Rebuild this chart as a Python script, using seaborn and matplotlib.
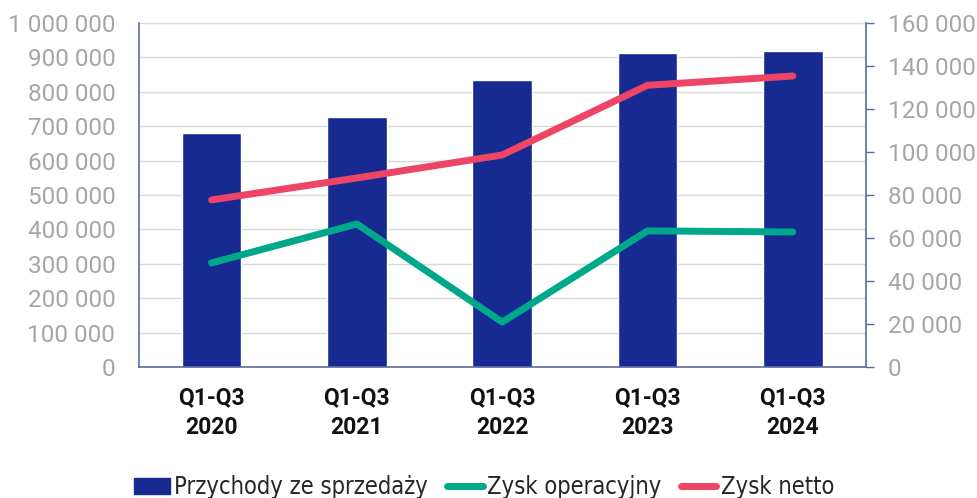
import matplotlib
matplotlib.use("Agg")
import matplotlib.pyplot as plt
import seaborn as sns
import pandas as pd
from matplotlib.ticker import FuncFormatter, MultipleLocator
from matplotlib.patches import Patch
from matplotlib.lines import Line2D
from matplotlib import font_manager as fm

categories = ["Q1-Q3\n2020", "Q1-Q3\n2021", "Q1-Q3\n2022", "Q1-Q3\n2023", "Q1-Q3\n2024"]
przychody = [679000, 728000, 835000, 913000, 919000]
zysk_operacyjny = [48400, 66500, 20900, 63300, 62800]
zysk_netto = [77700, 87900, 98600, 131000, 135300]

df = pd.DataFrame({"kat": categories, "przychody": przychody,
                   "zop": zysk_operacyjny, "zn": zysk_netto})

sns.set_theme(style="white")
plt.rcParams["font.family"] = ["Roboto", "DejaVu Sans"]

BAR = "#162A92"
GREEN = "#00A88A"
RED = "#EE4466"
SPINE = "#5A6A9E"
TICK = "#A6A6A6"

fig = plt.figure(figsize=(9.78, 4.98), dpi=100)
ax = fig.add_axes([0.142, 0.263, 0.743, 0.691])

sns.barplot(data=df, x="kat", y="przychody", color=BAR, width=0.41,
            saturation=1, ax=ax, zorder=2)
ax.set_ylim(0, 1000000)
ax.yaxis.set_major_locator(MultipleLocator(100000))
fmt = FuncFormatter(lambda v, p: f"{int(v):,}".replace(",", " "))
ax.yaxis.set_major_formatter(fmt)
ax.grid(axis="y", color="#D9D9D9", linewidth=1, zorder=0)
ax.set_axisbelow(True)
ax.set_xlabel("")
ax.set_ylabel("")
ax.tick_params(axis="y", length=0, labelsize=17.5, labelcolor=TICK, pad=17)
ax.tick_params(axis="x", length=0, labelsize=16.5, pad=14)
for lab in ax.get_xticklabels():
    lab.set_fontweight("bold")
    lab.set_color("#111111")
    lab.set_linespacing(1.35)
for s in ["top", "right"]:
    ax.spines[s].set_visible(False)
for s in ["left", "bottom"]:
    ax.spines[s].set_color(SPINE)
    ax.spines[s].set_linewidth(1.2)

ax2 = ax.twinx()
sns.lineplot(data=df, x="kat", y="zop", color=GREEN, linewidth=5,
             solid_capstyle="round", ax=ax2, sort=False)
sns.lineplot(data=df, x="kat", y="zn", color=RED, linewidth=5,
             solid_capstyle="round", ax=ax2, sort=False)
ax2.set_ylim(0, 160000)
ax2.yaxis.set_major_locator(MultipleLocator(20000))
ax2.yaxis.set_major_formatter(fmt)
ax2.set_ylabel("")
ax2.set_xlabel("")
ax2.tick_params(axis="y", length=6, width=1, color=SPINE, direction="out",
                labelsize=17.5, labelcolor=TICK, pad=10)
for s in ["top", "left", "bottom"]:
    ax2.spines[s].set_visible(False)
ax2.spines["right"].set_color(SPINE)
ax2.spines["right"].set_linewidth(1.2)
ax.set_xlim(-0.5, 4.5)

handles = [Patch(facecolor=BAR, edgecolor=BAR),
           Line2D([0], [0], color=GREEN, linewidth=5, solid_capstyle="round"),
           Line2D([0], [0], color=RED, linewidth=5, solid_capstyle="round")]
labels = ["Przychody ze sprzedaży", "Zysk operacyjny", "Zysk netto"]
legprop = fm.FontProperties(family=["DejaVu Sans"], stretch="condensed", size=17)
fig.legend(handles, labels, loc="lower center", bbox_to_anchor=(0.495, -0.045),
           ncol=3, frameon=False, handlelength=1.5, handletextpad=0.2,
           columnspacing=0.8, prop=legprop)

fig.savefig("out.png", dpi=100)
